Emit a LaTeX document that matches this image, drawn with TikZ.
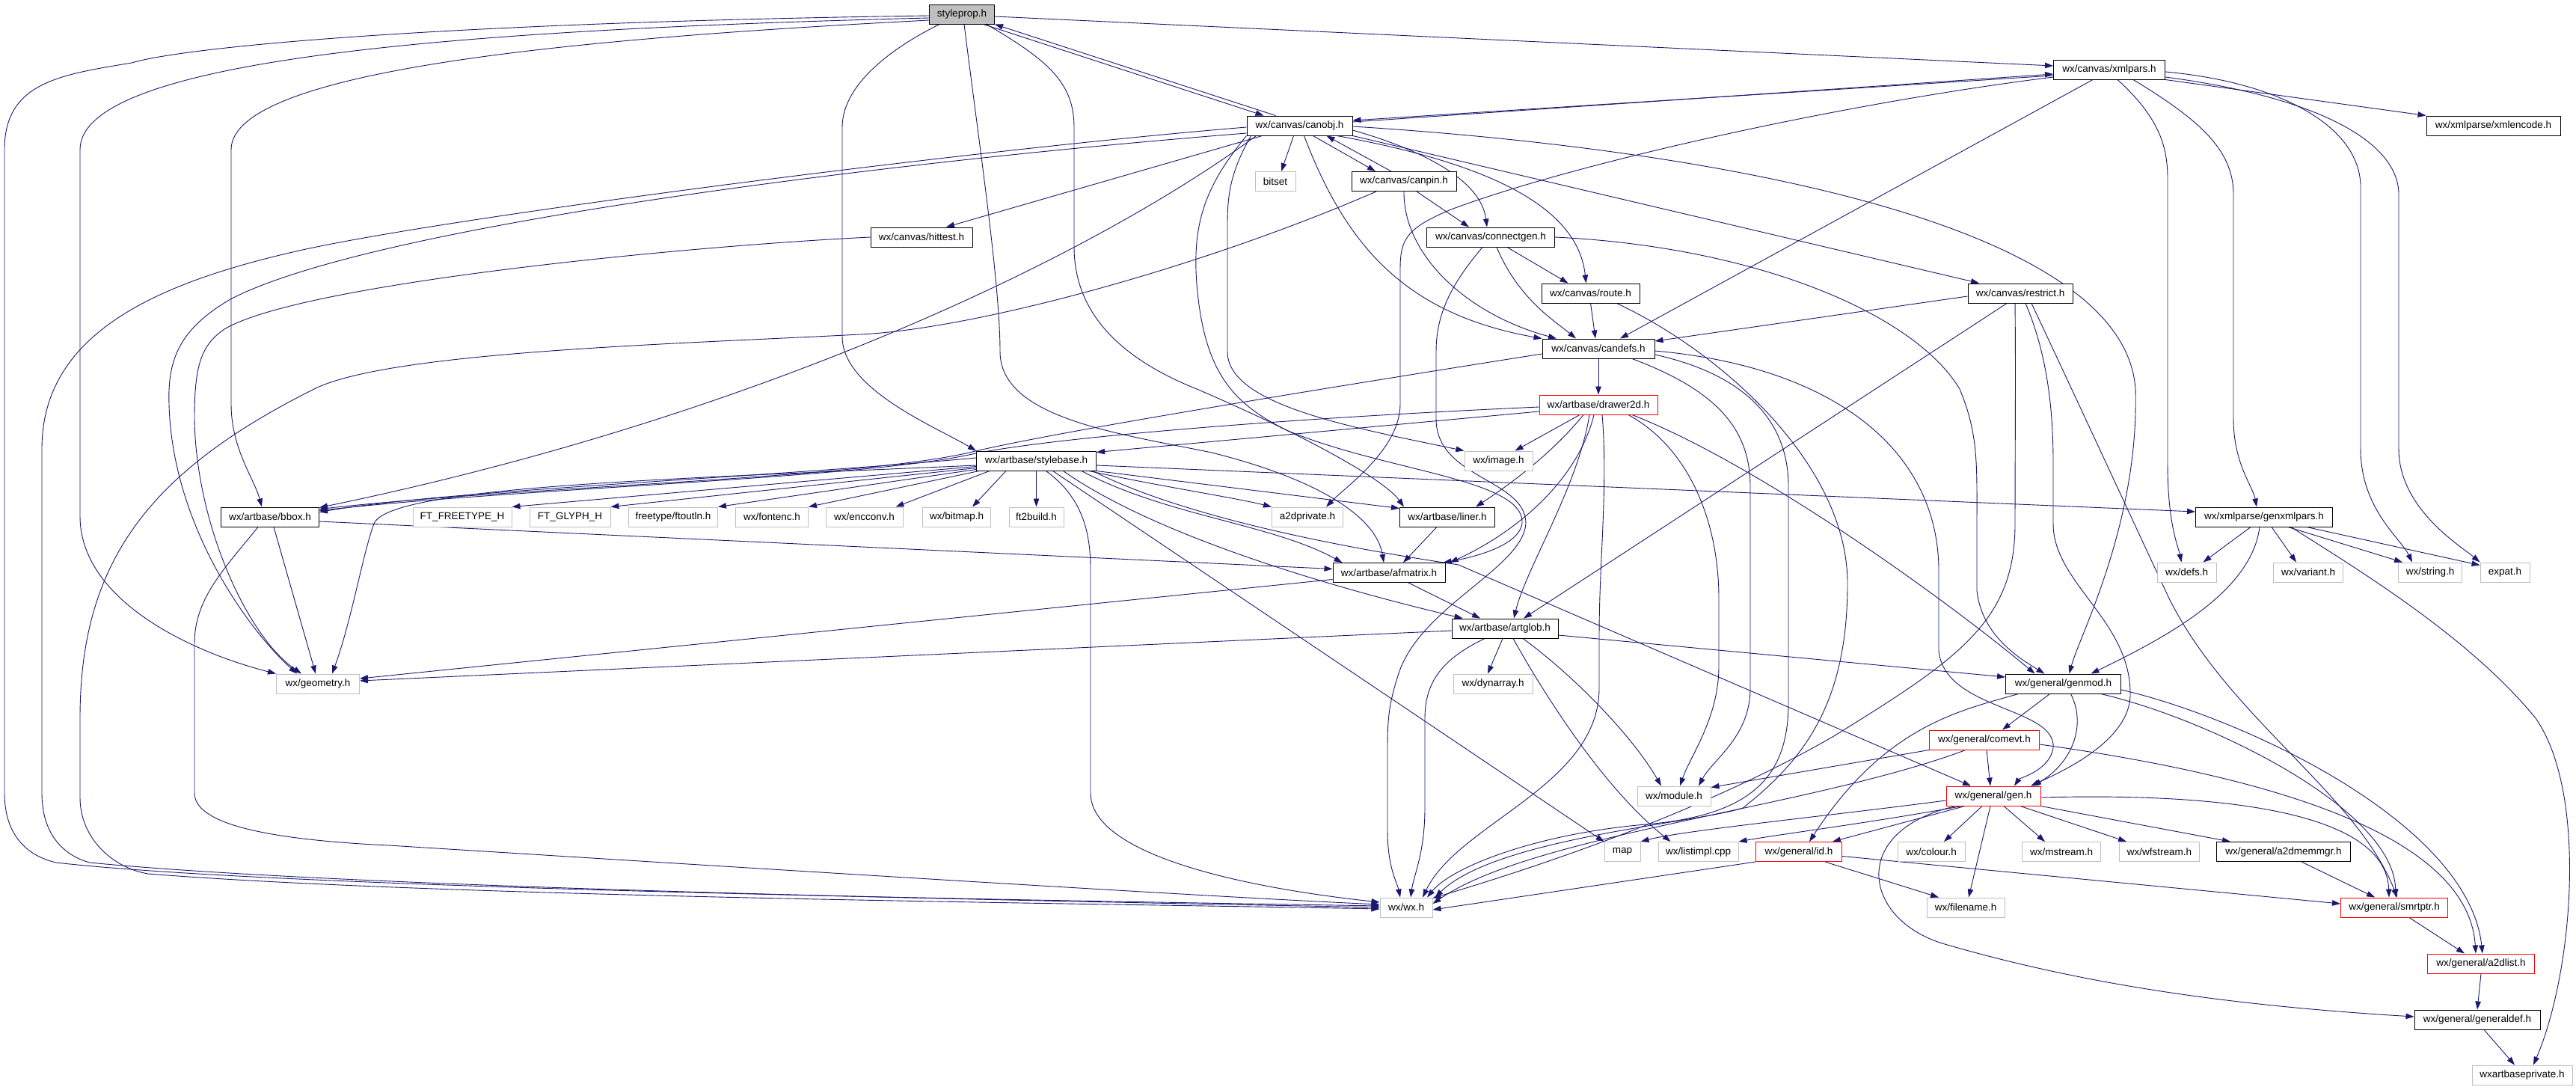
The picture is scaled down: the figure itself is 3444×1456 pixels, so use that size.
\documentclass[tikz,border=0pt]{standalone}
\usepackage{fontspec}
\setmainfont{Liberation Sans}
\usetikzlibrary{arrows.meta}
\pgfdeclarelayer{bg}
\pgfsetlayers{bg,main}
\definecolor{edgec}{RGB}{25,25,112}
\definecolor{grayb}{RGB}{191,191,191}
\definecolor{redb}{RGB}{255,0,0}
\begin{document}
\begin{tikzpicture}[x=1pt,y=-1pt,
 every node/.style={font=\fontsize{13.5}{16}\selectfont},
 box/.style={draw=black, line width=1pt, rectangle, minimum height=26pt, inner sep=0pt, fill=white},
 gbox/.style={box, draw=grayb},
 rbox/.style={box, draw=redb},
 e/.style={draw=edgec, line width=0.9pt, -{Triangle[length=11pt,width=7.5pt]}}]
\useasboundingbox (0,0) rectangle (3444,1456);
% nodes
\node[box,fill=grayb,minimum width=87pt] (sp) at (1286,19) {styleprop.h};
\node[box,minimum width=149pt] (xp) at (2820,93) {wx/canvas/xmlpars.h};
\node[box,minimum width=141pt] (co) at (1737.5,168) {wx/canvas/canobj.h};
\node[box,minimum width=179pt] (xe) at (3333.5,168) {wx/xmlparse/xmlencode.h};
\node[gbox,minimum width=54pt] (bs) at (1705,242.5) {bitset};
\node[box,minimum width=140pt] (cp) at (1877,242.5) {wx/canvas/canpin.h};
\node[box,minimum width=136pt] (ht) at (1232,317) {wx/canvas/hittest.h};
\node[box,minimum width=171pt] (cg) at (1993,317) {wx/canvas/connectgen.h};
\node[box,minimum width=131pt] (ro) at (2126.5,392) {wx/canvas/route.h};
\node[box,minimum width=140pt] (re) at (2701,392) {wx/canvas/restrict.h};
\node[box,minimum width=150pt] (cd) at (2137,466) {wx/canvas/candefs.h};
\node[rbox,minimum width=158pt] (dr) at (2137,541) {wx/artbase/drawer2d.h};
\node[box,minimum width=160pt] (sb) at (1385.5,616) {wx/artbase/stylebase.h};
\node[gbox,minimum width=91pt] (im) at (2003.5,616) {wx/image.h};
\node[box,minimum width=131pt] (bb) at (361,691) {wx/artbase/bbox.h};
\node[gbox,minimum width=132pt] (ft) at (618,691) {FT\_FREETYPE\_H};
\node[gbox,minimum width=108pt] (fg) at (762,691) {FT\_GLYPH\_H};
\node[gbox,minimum width=119pt] (fo) at (900,691) {freetype/ftoutln.h};
\node[gbox,minimum width=97pt] (fe) at (1032,691) {wx/fontenc.h};
\node[gbox,minimum width=103pt] (ec) at (1155.5,691) {wx/encconv.h};
\node[gbox,minimum width=91pt] (bm) at (1279,691) {wx/bitmap.h};
\node[gbox,minimum width=73pt] (f2) at (1385.5,691) {ft2build.h};
\node[gbox,minimum width=95pt] (ap) at (1748,691) {a2dprivate.h};
\node[box,minimum width=127pt] (li) at (1935,691) {wx/artbase/liner.h};
\node[box,minimum width=183pt] (gx) at (3027,691) {wx/xmlparse/genxmlpars.h};
\node[box,minimum width=150pt] (af) at (1857,765.5) {wx/artbase/afmatrix.h};
\node[gbox,minimum width=79pt] (df) at (2923.5,765) {wx/defs.h};
\node[gbox,minimum width=93pt] (va) at (3086,765) {wx/variant.h};
\node[gbox,minimum width=85pt] (st) at (3249,765) {wx/string.h};
\node[gbox,minimum width=66pt] (ex) at (3349,765) {expat.h};
\node[box,minimum width=142pt] (ag) at (2012,840) {wx/artbase/artglob.h};
\node[gbox,minimum width=111pt] (ge) at (425,914) {wx/geometry.h};
\node[gbox,minimum width=106pt] (dy) at (1996,914) {wx/dynarray.h};
\node[box,minimum width=154pt] (gm) at (2758.5,914) {wx/general/genmod.h};
\node[rbox,minimum width=147pt] (ce) at (2653,989) {wx/general/comevt.h};
\node[gbox,minimum width=98pt] (mo) at (2238,1064) {wx/module.h};
\node[rbox,minimum width=126pt] (gn) at (2665,1064) {wx/general/gen.h};
\node[gbox,minimum width=48pt] (ma) at (2169,1138.5) {map};
\node[gbox,minimum width=107pt] (lt) at (2270.5,1138.5) {wx/listimpl.cpp};
\node[rbox,minimum width=115pt] (id) at (2405,1138.5) {wx/general/id.h};
\node[gbox,minimum width=90pt] (cl) at (2582,1138.5) {wx/colour.h};
\node[gbox,minimum width=105pt] (ms) at (2756,1138.5) {wx/mstream.h};
\node[gbox,minimum width=107pt] (wf) at (2887,1138.5) {wx/wfstream.h};
\node[box,minimum width=179pt] (mm) at (3053,1138.5) {wx/general/a2dmemmgr.h};
\node[gbox,minimum width=70pt] (wx) at (1880,1213) {wx/wx.h};
\node[gbox,minimum width=104pt] (fn) at (2628,1213) {wx/filename.h};
\node[rbox,minimum width=143pt] (sm) at (3201,1213) {wx/general/smrtptr.h};
\node[rbox,minimum width=143pt] (al) at (3317,1288) {wx/general/a2dlist.h};
\node[box,minimum width=168pt] (gd) at (3312,1363) {wx/general/generaldef.h};
\node[gbox,minimum width=134pt] (wp) at (3372,1437) {wxartbaseprivate.h};
\begin{pgfonlayer}{bg}
\fill[white] (0,0) rectangle (3444,1456);
% styleprop
\draw[e] ([xshift=-15pt]sp.south east) -- ([xshift=-48pt]co.north);
\draw[e] ([xshift=-32pt]co.north) -- (sp.south east);
\draw[e] ([yshift=-3pt]sp.east) -- ([yshift=5pt]xp.west);
\draw[e] ([yshift=-2pt]sp.west) .. controls (600,30) and (250,62) .. (176,84) .. controls (80,100) and (6,110) .. (6,200) -- (6,1060) .. controls (6,1120) and (40,1145) .. (75,1153) .. controls (400,1190) and (1500,1205) .. ([yshift=2pt]wx.west);
\draw[e] ([yshift=-5pt]sp.west) .. controls (600,40) and (107,80) .. (107,200) -- (107,690) .. controls (107,800) and (250,870) .. (ge.north west);
\draw[e] ([yshift=-8pt]sp.west) .. controls (800,50) and (309,90) .. (309,200) -- (309,540) .. controls (309,600) and (340,640) .. ([xshift=-11pt]bb.north);
\draw[e] ([xshift=-30pt]sp.south) .. controls (1200,60) and (1126,110) .. (1126,170) -- (1126,450) .. controls (1126,520) and (1250,570) .. (sb.north west);
\draw[e] ([xshift=3pt]sp.south) .. controls (1310,200) and (1337,380) .. (1337,470) .. controls (1337,560) and (1500,580) .. (1620,605) .. controls (1760,640) and (1840,690) .. ([xshift=-7pt]af.north);
\draw[e] ([xshift=33pt]sp.south) .. controls (1400,80) and (1436,110) .. (1436,170) -- (1436,330) .. controls (1436,420) and (1500,480) .. (1600,520) .. controls (1740,580) and (1850,640) .. ([xshift=6pt]li.north west);
% canobj
\draw[e] ([yshift=5pt]co.east) -- ([yshift=-6pt]xp.west);
\draw[e] ([yshift=-8pt]xp.west) -- ([yshift=7pt]co.east);
\draw[e] ([xshift=-8pt]co.south) -- ([xshift=8pt]bs.north);
\draw[e] ([xshift=18pt]co.south) -- ([xshift=-38pt]cp.north);
\draw[e] ([xshift=-17pt]cp.north) -- ([xshift=36pt]co.south);
\draw[e] ([xshift=-50pt]co.south) -- ([xshift=33pt]ht.north);
\draw[e] ([yshift=-6pt]co.east) .. controls (1900,200) and (1980,240) .. ([xshift=-5pt]cg.north);
\draw[e] ([xshift=50pt]co.south) .. controls (2000,220) and (2110,280) .. ([xshift=-6pt]ro.north);
\draw[e] ([xshift=6pt]co.south) .. controls (1800,330) and (1880,420) .. (cd.north west);
\draw[e] (co.south east) -- ([xshift=-55pt]re.north);
\draw[e] ([yshift=-1pt]co.east) .. controls (2300,200) and (2840,300) .. (2855,520) .. controls (2860,700) and (2780,850) .. ([xshift=8pt]gm.north);
\draw[e] ([xshift=-65pt]co.south) .. controls (1645,230) and (1641,260) .. (1641,300) -- (1641,470) .. controls (1641,540) and (1800,570) .. (im.north west);
\draw[e] (co.south west) .. controls (1610,250) and (1594,300) .. (1600,380) .. controls (1610,500) and (1650,540) .. (1720,575) .. controls (1850,630) and (2040,640) .. (2035,700) .. controls (2030,730) and (1970,745) .. ([xshift=-3pt]af.north east);
\draw[e] ([yshift=-2pt]co.west) .. controls (1300,200) and (600,290) .. (400,335) .. controls (200,380) and (56,450) .. (56,600) -- (56,1060) .. controls (56,1120) and (90,1145) .. (120,1153) .. controls (500,1190) and (1500,1206) .. (wx.west);
\draw[e] ([yshift=-10pt]co.west) .. controls (1200,215) and (500,300) .. (308,400) .. controls (240,440) and (224,480) .. (226,540) .. controls (230,700) and (330,840) .. ([xshift=-28pt]ge.north);
\draw[e] ([xshift=-58pt]co.south) .. controls (1450,350) and (1000,560) .. ([yshift=-1pt]bb.north east);
% canpin
\draw[e] ([xshift=17pt]cp.south) -- ([xshift=-29pt]cg.north);
\draw[e] (cp.south) .. controls (1876,340) and (1960,420) .. ([xshift=-56pt]cd.north);
\draw[e] ([xshift=-37pt]cp.south) .. controls (1600,360) and (1300,440) .. (1150,447) .. controls (900,460) and (520,470) .. (420,520) .. controls (200,630) and (107,750) .. (107,960) -- (107,1066) .. controls (107,1120) and (150,1160) .. (198,1168) .. controls (600,1200) and (1500,1208) .. ([yshift=-2pt]wx.west);
% hittest
\draw[e] (ht.west) .. controls (900,330) and (400,380) .. (300,440) .. controls (268,462) and (260,490) .. (260,560) .. controls (262,700) and (330,850) .. ([xshift=-22pt]ge.north);
% connectgen
\draw[e] ([xshift=22pt]cg.south) -- ([xshift=-30pt]ro.north);
\draw[e] ([xshift=8pt]cg.south) .. controls (2030,400) and (2080,430) .. ([xshift=-30pt]cd.north);
\draw[e] (cg.east) .. controls (2350,330) and (2560,420) .. (2620,520) .. controls (2645,580) and (2643,620) .. (2643,700) -- (2643,790) .. controls (2650,850) and (2700,880) .. ([xshift=-25pt]gm.north);
\draw[e] ([xshift=-11pt]cg.south) .. controls (1940,380) and (1920,420) .. (1920,470) -- (1920,560) .. controls (1920,640) and (2040,640) .. (2040,700) .. controls (2035,760) and (1900,810) .. (1870,900) .. controls (1857,940) and (1855,960) .. (1855,1000) -- (1855,1110) .. controls (1855,1160) and (1868,1180) .. ([xshift=-8pt]wx.north);
% route
\draw[e] (ro.south) -- ([xshift=-4pt]cd.north);
\draw[e] ([xshift=35pt]ro.south) .. controls (2300,470) and (2470,620) .. (2470,780) .. controls (2470,930) and (2420,1010) .. (2330,1080) .. controls (2270,1100) and (2000,1120) .. ([xshift=3pt]wx.north east);
% restrict
\draw[e] ([yshift=-4pt]re.west) -- ([yshift=10pt]cd.east);
\draw[e] ([xshift=-18pt]re.south) -- ([xshift=25pt]ag.north);
\draw[e] ([xshift=-7pt]re.south) .. controls (2695,500) and (2694,600) .. (2694,700) .. controls (2694,830) and (2620,880) .. (2450,985) .. controls (2250,1100) and (2000,1175) .. ([yshift=-1pt]wx.north east);
\draw[e] ([xshift=7pt]re.south) .. controls (2740,480) and (2745,560) .. (2745,620) -- (2745,700) .. controls (2745,780) and (2850,830) .. (2848,930) .. controls (2846,990) and (2760,1030) .. ([xshift=50pt]gn.north);
\draw[e] ([xshift=15pt]re.south) .. controls (2770,520) and (2830,650) .. (2900,800) .. controls (2980,960) and (3150,1060) .. ([xshift=4pt]sm.north);
% candefs
\draw[e] (cd.south) -- (dr.north);
\draw[e] ([yshift=-7pt]cd.west) .. controls (1700,530) and (1400,580) .. (1300,604) .. controls (1150,640) and (700,650) .. ([yshift=-3pt]bb.north east);
\draw[e] ([xshift=45pt]cd.south) .. controls (2290,520) and (2340,570) .. (2340,650) -- (2340,920) .. controls (2340,985) and (2290,1015) .. ([xshift=33pt]mo.north);
\draw[e] ([yshift=-8pt]cd.east) .. controls (2330,500) and (2391,560) .. (2391,650) -- (2391,940) .. controls (2391,1040) and (2340,1090) .. (2200,1102) .. controls (2050,1115) and (1940,1160) .. ([xshift=28pt]wx.north);
\draw[e] ([yshift=-3pt]cd.east) .. controls (2450,490) and (2590,600) .. (2592,760) -- (2592,870) .. controls (2600,950) and (2750,945) .. (2745,1000) .. controls (2740,1030) and (2700,1040) .. ([xshift=28pt]gn.north);
% drawer2d
\draw[e] ([yshift=-9pt]dr.west) -- ([yshift=-2pt]sb.north east);
\draw[e] ([yshift=-3pt]dr.west) .. controls (1700,560) and (1400,586) .. (1300,607) .. controls (1150,640) and (700,652) .. ([yshift=-5pt]bb.north east);
\draw[e] ([xshift=-25pt]dr.south) -- ([xshift=22pt]im.north);
\draw[e] ([xshift=-20pt]dr.south) .. controls (2080,600) and (2030,640) .. ([xshift=38pt]li.north);
\draw[e] ([xshift=-6pt]dr.south) .. controls (2110,640) and (2030,710) .. ([xshift=6pt]af.north east);
\draw[e] ([xshift=-12pt]dr.south) .. controls (2110,650) and (2040,760) .. ([xshift=12pt]ag.north);
\draw[e] ([xshift=5pt]dr.south) .. controls (2150,650) and (2138,750) .. (2138,850) -- (2138,920) .. controls (2138,1050) and (1950,1100) .. ([xshift=22pt]wx.north);
\draw[e] ([xshift=40pt]dr.south) .. controls (2260,600) and (2298,700) .. (2298,800) -- (2298,890) .. controls (2298,960) and (2260,1010) .. ([xshift=8pt]mo.north);
\draw[e] ([xshift=45pt]dr.south) .. controls (2350,620) and (2600,800) .. ([xshift=-38pt]gm.north);
% stylebase
\draw[e] ([yshift=4pt]sb.west) .. controls (1000,640) and (600,655) .. ([yshift=-7pt]bb.north east);
\draw[e] ([yshift=6pt]sb.south west) -- (ft.north east);
\draw[e] ([yshift=4pt]sb.south west) -- (fg.north east);
\draw[e] ([yshift=2pt]sb.south west) -- (fo.north east);
\draw[e] ([xshift=4pt]sb.south west) -- (fe.north east);
\draw[e] ([xshift=18pt]sb.south west) -- ([xshift=-10pt]ec.north east);
\draw[e] ([xshift=40pt]sb.south west) -- ([xshift=21pt]bm.north);
\draw[e] (sb.south) -- (f2.north);
\draw[e] ([yshift=-6pt]sb.west) .. controls (900,640) and (520,650) .. (500,700) .. controls (485,740) and (470,830) .. ([xshift=19pt]ge.north);
\draw[e] ([xshift=-10pt]sb.south east) .. controls (1550,650) and (1650,665) .. (ap.north west);
\draw[e] (sb.south east) -- ([yshift=-2pt]li.north west);
\draw[e] ([xshift=-20pt]sb.south east) .. controls (1560,690) and (1700,700) .. ([xshift=13pt]af.north west);
\draw[e] ([xshift=36pt]sb.south) .. controls (1550,720) and (1800,790) .. ([xshift=15pt]ag.north west);
\draw[e] ([yshift=-6pt]sb.east) -- ([yshift=7pt]gx.west);
\draw[e] ([xshift=22pt]sb.south) -- (ma.north west);
\draw[e] ([xshift=13pt]sb.south) .. controls (1440,660) and (1458,700) .. (1458,760) -- (1458,1060) .. controls (1458,1140) and (1650,1185) .. ([yshift=7pt]wx.west);
\draw[e] ([xshift=-5pt]sb.south east) .. controls (1600,700) and (1850,740) .. (1950,755) -- ([xshift=-30pt]gn.north);
% bbox
\draw[e] ([xshift=5pt]bb.south) -- ([xshift=-3pt]ge.north);
\draw[e] ([yshift=-6pt]bb.east) -- ([yshift=5pt]af.west);
\draw[e] ([xshift=-16pt]bb.south) .. controls (300,760) and (260,800) .. (260,860) -- (260,1060) .. controls (260,1100) and (350,1122) .. (520,1130) .. controls (1000,1160) and (1600,1198) .. ([yshift=4pt]wx.west);
% liner, afmatrix
\draw[e] ([xshift=-14pt]li.south) -- ([xshift=19pt]af.north);
\draw[e] ([xshift=26pt]af.south) -- ([xshift=-33pt]ag.north);
\draw[e] ([yshift=-9pt]af.west) -- ([yshift=7pt]ge.east);
% artglob
\draw[e] ([yshift=-3pt]ag.west) -- ([yshift=4pt]ge.east);
\draw[e] ([xshift=-3pt]ag.south) -- ([xshift=-7pt]dy.north);
\draw[e] ([yshift=-9pt]ag.east) -- ([yshift=9pt]gm.west);
\draw[e] ([xshift=-27pt]ag.south) .. controls (1930,880) and (1905,910) .. (1905,960) -- (1905,1080) .. controls (1905,1140) and (1890,1170) .. ([xshift=6pt]wx.north);
\draw[e] ([xshift=11pt]ag.south) .. controls (2060,920) and (2140,1050) .. ([xshift=-37pt]lt.north);
\draw[e] ([xshift=24pt]ag.south) .. controls (2100,900) and (2180,980) .. ([xshift=-17pt]mo.north);
% xmlpars
\draw[e] (xp.south east) -- (xe.north west);
\draw[e] ([xshift=-22pt]xp.south) -- ([xshift=29pt]cd.north);
\draw[e] ([yshift=-10pt]xp.west) .. controls (2450,140) and (2100,220) .. (1940,280) .. controls (1880,305) and (1872,320) .. (1872,360) -- (1872,540) .. controls (1872,600) and (1800,650) .. ([xshift=25pt]ap.north);
\draw[e] ([xshift=11pt]xp.south) .. controls (2890,160) and (2898,200) .. (2898,240) -- (2898,620) .. controls (2898,700) and (2912,730) .. ([xshift=-7pt]df.north);
\draw[e] ([xshift=32pt]xp.south) .. controls (2940,160) and (2986,200) .. (2986,260) -- (2986,560) .. controls (2986,620) and (3012,650) .. ([xshift=-10pt]gx.north);
\draw[e] ([yshift=-3pt]xp.east) .. controls (3050,110) and (3156,170) .. (3156,250) -- (3156,600) .. controls (3156,680) and (3210,720) .. ([xshift=-24pt]st.north);
\draw[e] ([yshift=-10pt]xp.east) .. controls (3100,130) and (3207,190) .. (3207,260) -- (3207,600) .. controls (3207,680) and (3290,730) .. (ex.north west);
% genxmlpars
\draw[e] ([xshift=-18pt]gx.south) -- ([xshift=22pt]df.north);
\draw[e] ([xshift=10pt]gx.south) -- ([xshift=-16pt]va.north);
\draw[e] ([xshift=32pt]gx.south) -- ([xshift=-37pt]st.north);
\draw[e] ([xshift=57pt]gx.south) -- ([yshift=-4pt]ex.north west);
\draw[e] ([xshift=-6pt]gx.south) .. controls (3010,790) and (2900,850) .. ([xshift=37pt]gm.north);
\draw[e] ([xshift=36pt]gx.south) .. controls (3150,760) and (3300,850) .. (3390,960) .. controls (3460,1060) and (3440,1300) .. ([xshift=15pt]wp.north);
% genmod
\draw[e] ([xshift=-18pt]gm.south) -- ([xshift=24pt]ce.north);
\draw[e] ([xshift=10pt]gm.south) .. controls (2790,970) and (2770,1020) .. ([xshift=53pt]gn.north);
\draw[e] ([xshift=-60pt]gm.south) .. controls (2620,950) and (2520,970) .. ([xshift=14pt]id.north);
\draw[e] ([xshift=50pt]gm.south) .. controls (2950,960) and (3200,1080) .. ([xshift=2pt]sm.north);
\draw[e] ([yshift=-8pt]gm.east) .. controls (3000,960) and (3300,1100) .. ([xshift=2pt]al.north);
% comevt
\draw[e] ([xshift=3pt]ce.south) -- ([xshift=-4pt]gn.north);
\draw[e] (ce.south west) -- ([yshift=-2pt]mo.north east);
\draw[e] ([xshift=-25pt]ce.south) .. controls (2420,1080) and (2050,1115) .. ([yshift=5pt]wx.east);
\draw[e] ([yshift=-6pt]ce.east) .. controls (3050,1040) and (3300,1120) .. ([xshift=-7pt]al.north);
% gen
\draw[e] ([yshift=-6pt]gn.west) .. controls (2450,1090) and (2250,1110) .. (ma.north east);
\draw[e] ([xshift=-42pt]gn.south) .. controls (2500,1100) and (2380,1115) .. (lt.north east);
\draw[e] ([xshift=-38pt]gn.south) -- ([xshift=45pt]id.north);
\draw[e] ([xshift=-15pt]gn.south) -- ([xshift=17pt]cl.north);
\draw[e] ([xshift=-4pt]gn.south) -- ([xshift=4pt]fn.north);
\draw[e] ([xshift=14pt]gn.south) -- ([xshift=-22pt]ms.north);
\draw[e] ([xshift=36pt]gn.south) -- ([xshift=-44pt]wf.north);
\draw[e] (gn.south east) -- ([xshift=-71pt]mm.north);
\draw[e] ([yshift=-2pt]gn.east) .. controls (2950,1060) and (3190,1080) .. ([xshift=-7pt]sm.north);
\draw[e] ([xshift=-50pt]gn.south) .. controls (2470,1110) and (2490,1230) .. (2600,1262) .. controls (2800,1320) and (3000,1345) .. ([yshift=4pt]gd.west);
% id
\draw[e] (id.south west) -- ([yshift=-3pt]wx.east);
\draw[e] ([xshift=35pt]id.south) -- ([xshift=-36pt]fn.north);
\draw[e] ([yshift=-6pt]id.east) -- ([yshift=5pt]sm.west);
% rest
\draw[e] ([xshift=24pt]mm.south) -- ([xshift=-26pt]sm.north);
\draw[e] ([xshift=20pt]sm.south) -- ([xshift=-22pt]al.north);
\draw[e] (al.south) -- (gd.north);
\draw[e] ([xshift=9pt]gd.south) -- ([xshift=-10pt]wp.north);
\end{pgfonlayer}
\end{tikzpicture}
\end{document}
